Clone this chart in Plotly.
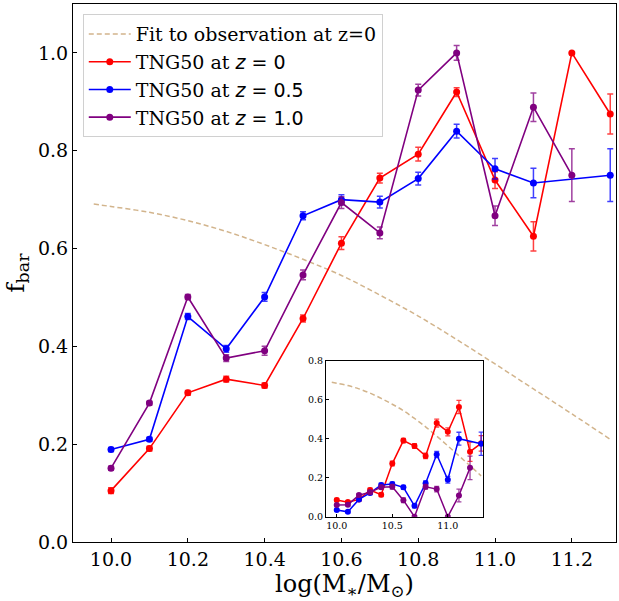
import plotly.graph_objects as go

# ---- data ----
fit_x = [9.955, 10.0, 10.1, 10.2, 10.3, 10.4, 10.5, 10.6, 10.7, 10.8, 10.9, 11.0, 11.1, 11.2, 11.3]
fit_y = [0.691, 0.686, 0.674, 0.657, 0.635, 0.608, 0.578, 0.545, 0.505, 0.462, 0.414, 0.364, 0.313, 0.262, 0.210]

red_x = [10.0, 10.1, 10.2, 10.3, 10.4, 10.5, 10.6, 10.7, 10.8, 10.9, 11.0, 11.1, 11.2, 11.3]
red_y = [0.105, 0.191, 0.305, 0.333, 0.320, 0.457, 0.611, 0.744, 0.793, 0.920, 0.740, 0.625, 1.000, 0.875]
red_e = [0.006, 0.005, 0.005, 0.006, 0.005, 0.007, 0.013, 0.010, 0.014, 0.009, 0.017, 0.030, 0.000, 0.041]

blue_x = [10.0, 10.1, 10.2, 10.3, 10.4, 10.5, 10.6, 10.7, 10.8, 10.9, 11.0, 11.1, 11.3]
blue_y = [0.189, 0.210, 0.461, 0.395, 0.501, 0.667, 0.700, 0.695, 0.743, 0.840, 0.763, 0.734, 0.750]
blue_e = [0.004, 0.004, 0.006, 0.007, 0.009, 0.008, 0.010, 0.012, 0.013, 0.014, 0.021, 0.030, 0.054]

purple_x = [10.0, 10.1, 10.2, 10.3, 10.4, 10.5, 10.6, 10.7, 10.8, 10.9, 11.0, 11.1, 11.2]
purple_y = [0.151, 0.284, 0.501, 0.376, 0.391, 0.546, 0.694, 0.632, 0.924, 1.000, 0.667, 0.889, 0.750]
purple_e = [0.004, 0.004, 0.005, 0.007, 0.009, 0.010, 0.012, 0.012, 0.012, 0.015, 0.020, 0.029, 0.054]

# inset
red_in_x = [10.0, 10.1, 10.2, 10.3, 10.4, 10.5, 10.6, 10.7, 10.8, 10.9, 11.0, 11.1, 11.2, 11.3]
red_in_y = [0.086, 0.075, 0.089, 0.137, 0.113, 0.273, 0.391, 0.363, 0.312, 0.481, 0.436, 0.564, 0.334, 0.377]
red_in_e = [0.008, 0.007, 0.008, 0.010, 0.010, 0.012, 0.012, 0.012, 0.014, 0.020, 0.021, 0.034, 0.050, 0.040]

blue_in_x = [10.0, 10.1, 10.2, 10.3, 10.4, 10.5, 10.6, 10.7, 10.8, 10.9, 11.0, 11.1, 11.3]
blue_in_y = [0.034, 0.025, 0.089, 0.122, 0.163, 0.168, 0.151, 0.056, 0.172, 0.320, 0.190, 0.401, 0.375]
blue_in_e = [0.005, 0.005, 0.007, 0.008, 0.010, 0.010, 0.010, 0.010, 0.012, 0.016, 0.017, 0.033, 0.060]

purple_in_x = [10.0, 10.1, 10.2, 10.3, 10.4, 10.5, 10.6, 10.7, 10.8, 10.9, 11.0, 11.1, 11.2]
purple_in_y = [0.060, 0.062, 0.111, 0.126, 0.152, 0.154, 0.085, 0.000, 0.154, 0.142, 0.000, 0.109, 0.251]
purple_in_e = [0.006, 0.006, 0.008, 0.010, 0.010, 0.012, 0.012, 0.000, 0.012, 0.014, 0.000, 0.033, 0.060]

y_ticks = [0.0, 0.2, 0.4, 0.6, 0.8, 1.0]
x_ticks = [10.0, 10.2, 10.4, 10.6, 10.8, 11.0, 11.2]
in_y_ticks = [0.0, 0.2, 0.4, 0.6, 0.8]
in_x_ticks = [10.0, 10.5, 11.0]

SANS = "font-family:'DejaVu Sans'"
names = [f"TNG50 at <span style=\"{SANS}\"><i>z</i> = 0</span>",
         f"TNG50 at <span style=\"{SANS}\"><i>z</i> = 0.5</span>",
         f"TNG50 at <span style=\"{SANS}\"><i>z</i> = 1.0</span>"]
colors = ["#ff0000", "#0000ff", "#800080"]
err_colors = ["rgba(255,0,0,0.75)", "rgba(0,0,255,0.75)", "rgba(128,0,128,0.75)"]
FIT_COLOR = "#d2b48c"
FONT = "DejaVu Serif"

fig = go.Figure()

# main axes
fig.add_trace(go.Scatter(x=fit_x, y=fit_y, mode="lines", line=dict(color=FIT_COLOR, width=1.5, dash="5px,3px", shape="spline"),
                         name="Fit to observation at z=0", xaxis="x", yaxis="y"))
main_sets = [(red_x, red_y, red_e), (blue_x, blue_y, blue_e), (purple_x, purple_y, purple_e)]
for (xs, ys, es), nm, c, ec in zip(main_sets, names, colors, err_colors):
    fig.add_trace(go.Scatter(x=xs, y=ys, mode="lines+markers", name=nm,
                             line=dict(color=c, width=1.6), marker=dict(color=c, size=7),
                             error_y=dict(type="data", array=es, visible=True, color=ec, thickness=1.5, width=3),
                             xaxis="x", yaxis="y"))

# inset axes
fig.add_trace(go.Scatter(x=fit_x, y=fit_y, mode="lines", line=dict(color=FIT_COLOR, width=1.5, dash="5px,3px", shape="spline"),
                         showlegend=False, xaxis="x2", yaxis="y2"))
inset_sets = [(red_in_x, red_in_y, red_in_e), (blue_in_x, blue_in_y, blue_in_e), (purple_in_x, purple_in_y, purple_in_e)]
for (xs, ys, es), c, ec in zip(inset_sets, colors, err_colors):
    fig.add_trace(go.Scatter(x=xs, y=ys, mode="lines+markers", showlegend=False,
                             line=dict(color=c, width=1.5), marker=dict(color=c, size=6),
                             error_y=dict(type="data", array=es, visible=True, color=ec, thickness=1.3, width=2.5),
                             xaxis="x2", yaxis="y2"))

axis_common = dict(showline=True, linecolor="black", linewidth=1, mirror=True, ticks="inside",
                   tickcolor="black", showgrid=False, zeroline=False, automargin=False)

fig.update_layout(
    width=619, height=601,
    margin=dict(l=73, r=3, t=4, b=59),
    paper_bgcolor="white", plot_bgcolor="white",
    font=dict(family=FONT, color="black"),
    xaxis=dict(domain=[0, 1], range=[9.901, 11.315], tickvals=x_ticks, ticktext=[f"{v:.1f}" for v in x_ticks],
               ticklen=4, tickwidth=1, tickfont=dict(family=FONT, size=19),
               title=dict(text="log(M<sub>∗</sub>/M<sub>⊙</sub>)", font=dict(family=FONT, size=24), standoff=3),
               anchor="y", **axis_common),
    yaxis=dict(domain=[0, 1], range=[0, 1.1], tickvals=y_ticks, ticktext=[f"{v:.1f}" for v in y_ticks],
               ticklen=4, tickwidth=1, tickfont=dict(family=FONT, size=19),
               title=dict(text="f<sub>bar</sub>", font=dict(family=FONT, size=25), standoff=6),
               anchor="x", **axis_common),
    xaxis2=dict(domain=[0.4659, 0.7551], range=[9.903, 11.317], tickvals=in_x_ticks, ticktext=[f"{v:.1f}" for v in in_x_ticks],
                ticklen=3, tickwidth=1, tickfont=dict(family=FONT, size=9.5), anchor="y2", **axis_common),
    yaxis2=dict(domain=[0.047, 0.3364], range=[0, 0.8], tickvals=in_y_ticks, ticktext=[f"{v:.1f}" for v in in_y_ticks],
                ticklen=3, tickwidth=1, tickfont=dict(family=FONT, size=9.5), anchor="x2", **axis_common),
    legend=dict(x=0.018, y=0.981, xanchor="left", yanchor="top", bgcolor="rgba(255,255,255,0.8)",
                bordercolor="#d0d0d0", borderwidth=1, font=dict(family=FONT, size=19), itemwidth=42,
                tracegroupgap=0),
)

fig.write_html("out.html", config={"displayModeBar": False},
               post_script="document.body.style.margin='0';")
